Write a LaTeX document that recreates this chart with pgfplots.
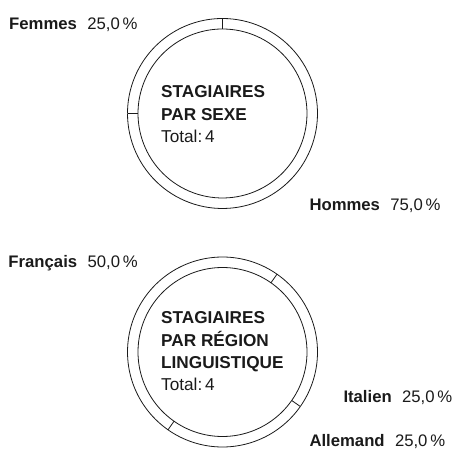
\documentclass[border=0pt]{standalone}
\usepackage{pgfplots}
\pgfplotsset{compat=1.18}
\usepackage{fontspec}
\setmainfont{Liberation Sans}
\definecolor{ink}{HTML}{1A1A1A}
\newcommand{\lbl}[2]{{\fontsize{16.7bp}{20bp}\selectfont\textbf{#1}\hspace{0.62em}#2}}
\newcommand{\ctr}{\fontsize{17.2bp}{20bp}\selectfont}
% one ring segment: start angle (deg), share (%)
\newcommand{\donutseg}[2]{%
  \addplot[ring, domain={#1}:{#1+3.6*#2}, samples=90] ({95*cos(x)},{95*sin(x)});
  \addplot[ring, domain={#1}:{#1+3.6*#2}, samples=90] ({84.5*cos(x)},{84.5*sin(x)});
  \addplot[ring, data cs=polar] coordinates {(#1,84.5) (#1,95)};
}
\pgfplotsset{
  donut/.style={x=1bp, y=1bp, xmin=-100, xmax=100, ymin=-100, ymax=100,
    hide axis, clip=false, anchor=center},
  ring/.style={draw=ink, line width=0.8bp, no marks}
}
\begin{document}
\begin{tikzpicture}
% --- Stagiaires par sexe: Femmes 25 %, Hommes 75 %
\begin{axis}[donut, at={(222.5bp,336.5bp)}]
  \donutseg{90}{25}
  \donutseg{180}{75}
\end{axis}
% --- Stagiaires par région linguistique: Français 50 %, Allemand 25 %, Italien 25 %
\begin{axis}[donut, at={(222.5bp,98bp)}]
  \donutseg{55}{50}
  \donutseg{235}{25}
  \donutseg{325}{25}
\end{axis}
\begin{scope}[every node/.style={inner sep=0pt, anchor=base west, text=ink}]
  \node at (9bp,420.7bp) {\lbl{Femmes}{25,0\,\%}};
  \node at (309.3bp,239.3bp) {\lbl{Hommes}{75,0\,\%}};
  \node at (8.3bp,182.3bp) {\lbl{Français}{50,0\,\%}};
  \node at (343.3bp,47.3bp) {\lbl{Italien}{25,0\,\%}};
  \node at (309.3bp,4bp) {\lbl{Allemand}{25,0\,\%}};
  % centre texts
  \node at (161bp,352bp) {\ctr\textbf{STAGIAIRES}};
  \node at (161bp,329bp) {\ctr\textbf{PAR SEXE}};
  \node at (161bp,307bp) {\ctr Total:\,4};
  \node at (161bp,126bp) {\ctr\textbf{STAGIAIRES}};
  \node at (161bp,103.5bp) {\ctr\textbf{PAR RÉGION}};
  \node at (161bp,81.5bp) {\ctr\textbf{LINGUISTIQUE}};
  \node at (161bp,59bp) {\ctr Total:\,4};
\end{scope}
\pgfresetboundingbox
\useasboundingbox (0,0) rectangle (458bp,450bp);
\end{tikzpicture}
\end{document}
